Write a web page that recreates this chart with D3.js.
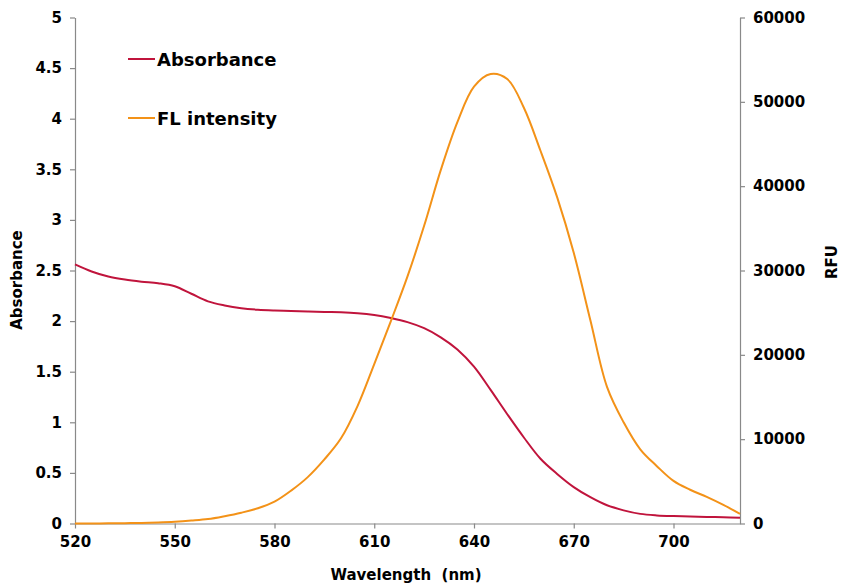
<!DOCTYPE html>
<html><head><meta charset="utf-8">
<script src="https://cdn.jsdelivr.net/npm/d3@7"></script>
<style>
html,body{margin:0;padding:0;background:#fff;}
text{font-family:"DejaVu Sans",Verdana,sans-serif;font-weight:bold;fill:#000;}
</style></head>
<body>
<svg id="chart" width="841" height="588"></svg>
<script>
const wavelengths = [520,525,530,535,540,545,550,555,560,565,570,575,580,585,590,595,600,605,610,615,620,625,630,635,640,645,650,655,660,665,670,675,680,685,690,695,700,705,710,715,720];
const absorbance = [2.56,2.49,2.44,2.41,2.39,2.375,2.345,2.27,2.195,2.155,2.128,2.113,2.105,2.10,2.095,2.09,2.087,2.078,2.06,2.03,1.99,1.93,1.84,1.72,1.55,1.32,1.08,0.85,0.64,0.49,0.36,0.26,0.18,0.13,0.095,0.08,0.073,0.069,0.065,0.061,0.057];
const flIntensity = [0,10,20,40,60,120,210,350,530,870,1280,1800,2590,3900,5500,7600,10100,13950,18900,24000,29300,35300,41900,47600,51800,53300,52700,49300,44200,38700,32100,24100,16200,12000,8800,6800,5050,4000,3150,2200,1150];
const xTicks = [520,550,580,610,640,670,700];
const leftTicks = [0,0.5,1,1.5,2,2.5,3,3.5,4,4.5,5];
const rightTicks = [0,10000,20000,30000,40000,50000,60000];
const seriesNames = ["Absorbance","FL intensity"];
const colors = ["#C0143C","#F39218"];

const svg = d3.select("#chart");
const L = 75, R = 740, T = 17.5, B = 523.5;
const x = d3.scaleLinear().domain([520,720]).range([L,R]);
const yL = d3.scaleLinear().domain([0,5]).range([B,T]);
const yR = d3.scaleLinear().domain([0,60000]).range([B,T]);
const axisColor = "#898989";

function styleAxis(g){
  g.select(".domain").attr("stroke",axisColor).attr("stroke-width",1.2);
  g.selectAll(".tick line").attr("stroke",axisColor).attr("stroke-width",1.2);
  g.selectAll(".tick text").style("font-size","15px").style("font-family","'DejaVu Sans',sans-serif").style("font-weight","bold").attr("fill","#000");
}
const gx = svg.append("g").attr("transform",`translate(0,${B})`)
  .call(d3.axisBottom(x).tickValues(xTicks).tickSize(5).tickSizeOuter(0).tickPadding(8).tickFormat(d3.format("d")));
styleAxis(gx);
const gl = svg.append("g").attr("transform",`translate(${L},0)`)
  .call(d3.axisLeft(yL).tickValues(leftTicks).tickSize(5).tickSizeOuter(0).tickPadding(8).tickFormat(d=>String(d)));
styleAxis(gl);
const gr = svg.append("g").attr("transform",`translate(${R},0)`)
  .call(d3.axisRight(yR).tickValues(rightTicks).tickSize(5).tickSizeOuter(0).tickPadding(8).tickFormat(d=>String(d)));
styleAxis(gr);

const curve = d3.curveCatmullRom.alpha(0.5);
const lineA = d3.line().x((d,i)=>x(wavelengths[i])).y(d=>yL(d)).curve(curve);
const lineF = d3.line().x((d,i)=>x(wavelengths[i])).y(d=>yR(d)).curve(curve);
svg.append("path").attr("d",lineA(absorbance)).attr("fill","none").attr("stroke",colors[0]).attr("stroke-width",2);
svg.append("path").attr("d",lineF(flIntensity)).attr("fill","none").attr("stroke",colors[1]).attr("stroke-width",2);

// axis titles
svg.append("text").attr("x",406).attr("y",580).attr("text-anchor","middle").style("font-size","15px").style("white-space","pre").text("Wavelength  (nm)");
svg.append("text").attr("transform","translate(22,280) rotate(-90)").attr("text-anchor","middle").style("font-size","15px").text("Absorbance");
svg.append("text").attr("transform","translate(837,262) rotate(-90)").attr("text-anchor","middle").style("font-size","15px").text("RFU");

// legend
const legY = [59,118];
seriesNames.forEach((n,i)=>{
  svg.append("line").attr("x1",128).attr("x2",155).attr("y1",legY[i]).attr("y2",legY[i]).attr("stroke",colors[i]).attr("stroke-width",2);
  svg.append("text").attr("x",157).attr("y",legY[i]+6.5).style("font-size","18px").text(n);
});
</script>
</body></html>
